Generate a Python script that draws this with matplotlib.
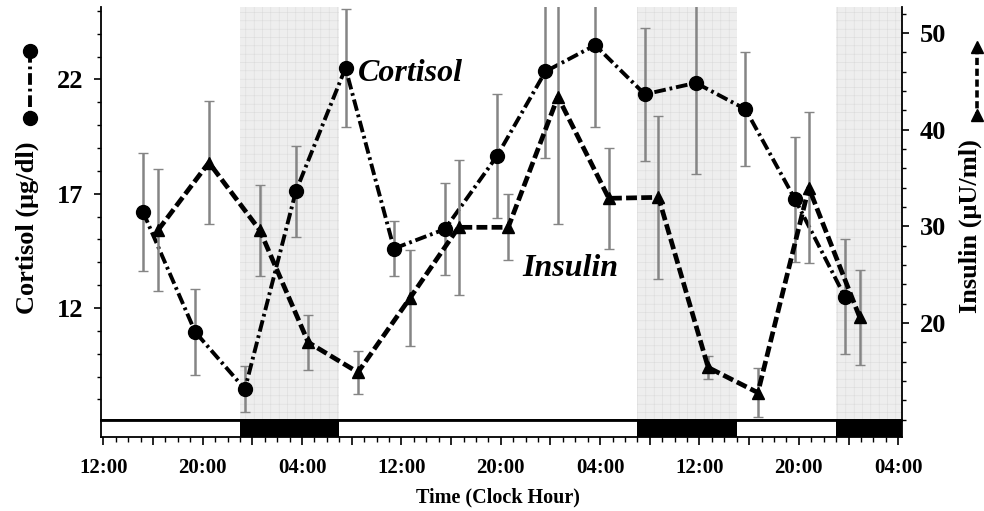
import matplotlib
matplotlib.use('Agg')
import matplotlib.pyplot as plt
from matplotlib.lines import Line2D
from matplotlib.ticker import FixedLocator, MultipleLocator

# sample times in hours after 12:00 on the first day
CORTISOL_HOURS = [3.2, 7.4, 11.4, 15.5, 19.5, 23.4, 27.5, 31.7, 35.6, 39.6, 43.6, 47.7, 51.7, 55.7, 59.7]
CORTISOL_MEAN = [16.2, 10.95, 8.45, 17.1, 22.5, 14.6, 15.45, 18.65, 22.35, 23.5, 21.35, 21.85, 20.7, 16.75, 12.5]
CORTISOL_SEM = [2.6, 1.9, 1.0, 2.0, 2.6, 1.2, 2.0, 2.7, 3.8, 3.6, 2.9, 4.0, 2.5, 2.75, 2.5]

INSULIN_HOURS = [4.4, 8.5, 12.6, 16.5, 20.5, 24.7, 28.6, 32.6, 36.6, 40.7, 44.7, 48.7, 52.7, 56.8, 60.9]
INSULIN_MEAN = [29.6, 36.6, 29.6, 18.0, 14.9, 22.6, 29.9, 29.9, 43.4, 32.9, 33.0, 15.4, 12.8, 34.0, 20.6]
INSULIN_SEM = [6.3, 6.4, 4.7, 2.85, 2.2, 5.0, 7.0, 3.4, 13.2, 5.2, 8.4, 1.2, 2.5, 7.8, 4.9]

# scheduled dark (sleep) periods
DARK_START = [11, 43, 59]
DARK_END = [19, 51, 64.3]

XTICK_HOURS = [0, 8, 16, 24, 32, 40, 48, 56, 64]
XTICK_LABELS = ['12:00', '20:00', '04:00', '12:00', '20:00', '04:00', '12:00', '20:00', '04:00']

plt.rcParams['font.family'] = 'Liberation Serif'
plt.rcParams['font.weight'] = 'bold'
plt.rcParams['hatch.linewidth'] = 0.4

XMIN, XMAX = -0.15, 64.3


def main():
    fig = plt.figure(figsize=(9.84, 5.11), dpi=100)

    ax = fig.add_axes([0.1031, 0.1781, 0.8135, 0.8082])
    bar_ax = fig.add_axes([0.1031, 0.1448, 0.8135, 0.0313], sharex=ax)
    ax2 = ax.twinx()

    # shaded sleep periods
    for s, e in zip(DARK_START, DARK_END):
        ax.axvspan(s, e, facecolor='#eeeeee', edgecolor='#dcdcdc', hatch='++', linewidth=0, zorder=0)

    # cortisol
    ax.errorbar(CORTISOL_HOURS, CORTISOL_MEAN, yerr=CORTISOL_SEM, fmt='none',
                ecolor='#858585', elinewidth=1.8, capsize=3.5, capthick=1.0, zorder=2)
    ax.plot(CORTISOL_HOURS, CORTISOL_MEAN, color='black', lw=2.8,
            linestyle=(0, (3.0, 1.0, 0.7, 1.0)), marker='o', ms=10, zorder=3)

    # insulin
    ax2.errorbar(INSULIN_HOURS, INSULIN_MEAN, yerr=INSULIN_SEM, fmt='none',
                 ecolor='#858585', elinewidth=1.8, capsize=3.5, capthick=1.0, zorder=2)
    ax2.plot(INSULIN_HOURS, INSULIN_MEAN, color='black', lw=3.4,
             linestyle=(0, (2.3, 0.9)), marker='^', ms=8, zorder=3)

    ax.set_xlim(XMIN, XMAX)
    ax.set_ylim(7.10, 25.17)
    ax2.set_ylim(9.97, 52.69)

    ax.text(20.5, 22.25, 'Cortisol', style='italic', fontsize=23, va='center')
    ax.text(33.7, 13.75, 'Insulin', style='italic', fontsize=23, va='center')

    for a in (ax, ax2):
        a.spines['top'].set_visible(False)
        for sp in a.spines.values():
            sp.set_linewidth(1.3)
    ax.spines['right'].set_visible(False)
    ax2.spines['left'].set_visible(False)

    ax.tick_params(axis='x', bottom=False, labelbottom=False)
    ax.set_yticks([12, 17, 22])
    ax.yaxis.set_minor_locator(MultipleLocator(1))
    ax.tick_params(axis='y', which='major', direction='out', length=5, width=1.2, labelsize=19, pad=8)
    ax.tick_params(axis='y', which='minor', direction='out', length=3, width=1.0)

    ax2.set_yticks([20, 30, 40, 50])
    ax2.yaxis.set_minor_locator(MultipleLocator(2))
    ax2.tick_params(axis='y', which='major', direction='out', length=5, width=1.2, labelsize=19, pad=8)
    ax2.tick_params(axis='y', which='minor', direction='out', length=3, width=1.0)

    # light/dark bar under the time axis
    for s, e in zip(DARK_START, DARK_END):
        bar_ax.axvspan(s, e, facecolor='black', linewidth=0)
    bar_ax.set_yticks([])
    for sp in bar_ax.spines.values():
        sp.set_linewidth(1.3)
    major_hours = list(range(0, 65, 4))
    bar_ax.xaxis.set_major_locator(FixedLocator(major_hours))
    bar_ax.set_xticklabels([XTICK_LABELS[XTICK_HOURS.index(h)] if h in XTICK_HOURS else '' for h in major_hours])
    bar_ax.xaxis.set_minor_locator(MultipleLocator(1))
    bar_ax.tick_params(axis='x', which='major', direction='out', length=6, width=1.2, labelsize=15, pad=9)
    bar_ax.tick_params(axis='x', which='minor', direction='out', length=3.5, width=1.0)
    bar_ax.set_xlim(XMIN, XMAX)

    fig.text(498 / 984, 1 - 497 / 511, 'Time (Clock Hour)', ha='center', va='center', fontsize=14.5)
    fig.text(27 / 984, 1 - 228 / 511, 'Cortisol (μg/dl)', rotation=90, ha='center', va='center', fontsize=19)
    fig.text(970 / 984, 1 - 226 / 511, 'Insulin (μU/ml)', rotation=90, ha='center', va='center', fontsize=19)

    # series keys beside the axis titles
    fig.add_artist(Line2D([30 / 984, 30 / 984], [1 - 51 / 511, 1 - 118 / 511], color='black', lw=2.8,
                          linestyle=(0, (3.0, 1.0, 0.7, 1.0)), marker='o', ms=10))
    fig.add_artist(Line2D([977 / 984, 977 / 984], [1 - 47 / 511, 1 - 115 / 511], color='black', lw=2.6,
                          linestyle=(0, (2.0, 1.0)), marker='^', ms=8))

    fig.savefig('out.png', dpi=100)


if __name__ == "__main__":
    main()
